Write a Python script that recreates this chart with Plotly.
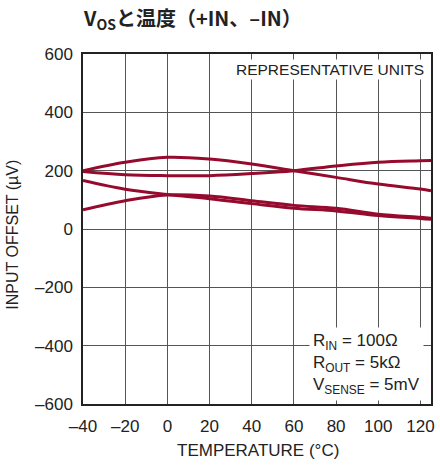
import plotly.graph_objects as go

# Temperature sweep (°C) and input offset of four representative units (µV)
temperature = [-40, -20, 0, 20, 40, 60, 80, 100, 120, 125]
unit_a = [200, 229, 246, 240, 223, 200, 177, 154, 137, 131]
unit_b = [197, 186, 183, 183, 190, 200, 216, 229, 234, 235]
unit_c = [166, 136, 118, 104, 87, 71, 62, 46, 36, 33]
unit_d = [66, 97, 117, 113, 97, 81, 71, 51, 40, 37]

x_ticks = [-40, -20, 0, 20, 40, 60, 80, 100, 120]
y_ticks = [-600, -400, -200, 0, 200, 400, 600]

LINE_COLOR = "#960b2d"
GRID_COLOR = "#555555"
TEXT_COLOR = "#222222"
FONT = "Liberation Sans, Arial, sans-serif"


def dash_label(v):
    return str(v).replace("-", "\u2013")


fig = go.Figure()
for series in (unit_a, unit_b, unit_c, unit_d):
    fig.add_trace(go.Scatter(
        x=temperature, y=series, mode="lines",
        line=dict(color=LINE_COLOR, width=3, shape="spline", smoothing=1.0),
        showlegend=False, hoverinfo="skip",
    ))

fig.update_layout(
    width=440, height=467,
    margin=dict(l=83, r=5, t=54, b=63),
    paper_bgcolor="white", plot_bgcolor="white",
    font=dict(family=FONT, size=17, color=TEXT_COLOR),
)

axis_style = dict(
    showgrid=True, gridcolor=GRID_COLOR, gridwidth=1,
    showline=True, linecolor=TEXT_COLOR, linewidth=1.5, mirror=True,
    zeroline=False, ticks="outside", tickcolor="rgba(0,0,0,0)",
    tickfont=dict(family=FONT, size=17, color=TEXT_COLOR),
)
fig.update_xaxes(range=[-40, 125], tickvals=x_ticks,
                 ticktext=[dash_label(v) for v in x_ticks],
                 ticklen=6, **axis_style)
fig.update_yaxes(range=[-600, 600], tickvals=y_ticks,
                 ticktext=[dash_label(v) for v in y_ticks],
                 ticklen=5, **axis_style)

# Axis titles
fig.add_annotation(
    xref="paper", yref="paper", x=0.503, y=-0.134,
    xanchor="center", yanchor="middle", showarrow=False,
    text="TEMPERATURE (°C)", font=dict(family=FONT, size=17, color=TEXT_COLOR),
)
fig.add_annotation(
    xref="paper", yref="paper", x=-0.202, y=0.483, textangle=-90,
    xanchor="center", yanchor="middle", showarrow=False,
    text="INPUT OFFSET (µV)", font=dict(family=FONT, size=16, color=TEXT_COLOR),
)

# Chart title
fig.add_annotation(
    xref="paper", yref="paper", x=-0.005, y=1.1,
    xanchor="left", yanchor="middle", showarrow=False,
    text="<b>V<sub>OS</sub>と温度（+IN、–IN）</b>",
    font=dict(family="Noto Sans CJK JP", size=20, color=TEXT_COLOR),
)

# Labels inside the plot area
fig.add_annotation(
    xref="paper", yref="paper", x=0.986, y=0.985,
    xanchor="right", yanchor="top", showarrow=False,
    text="REPRESENTATIVE UNITS", bgcolor="white", borderpad=1,
    font=dict(family=FONT, size=15.5, color=TEXT_COLOR),
)
fig.add_annotation(
    xref="paper", yref="paper", x=0.648, y=0.008,
    xanchor="left", yanchor="bottom", showarrow=False, align="left",
    text="R<sub>IN</sub> = 100Ω<br>R<sub>OUT</sub> = 5kΩ<br>V<sub>SENSE</sub> = 5mV",
    bgcolor="white", borderpad=3,
    font=dict(family=FONT, size=17, color=TEXT_COLOR),
)

fig.write_html("out.html")
